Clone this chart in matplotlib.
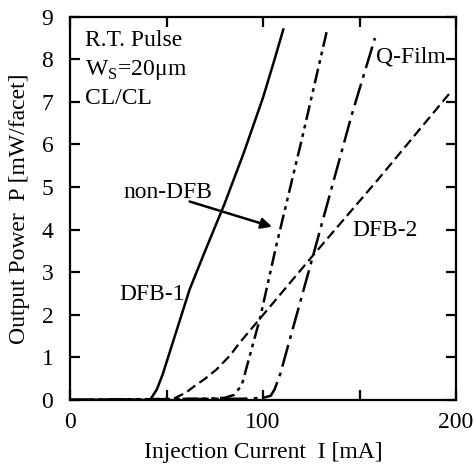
import matplotlib
matplotlib.use('Agg')
import matplotlib.pyplot as plt

plt.rcParams['font.family'] = ['Liberation Serif', 'DejaVu Serif']
plt.rcParams['mathtext.fontset'] = 'custom'
plt.rcParams['mathtext.rm'] = 'Liberation Serif'
plt.rcParams['font.size'] = 17

# curves: current [mA], power [mW/facet]
dfb1_I = [0, 20, 41.5, 45, 48, 55, 62, 70, 80, 90, 100, 106, 110.5]
dfb1_P = [0, 0.01, 0, 0.25, 0.6, 1.6, 2.6, 3.5, 4.6, 5.8, 7.1, 8.0, 8.7]

nondfb_I = [0, 40, 70, 80, 85, 89, 98.4, 107, 120, 133]
nondfb_P = [0, 0.02, 0.03, 0.05, 0.12, 0.35, 1.91, 3.65, 6.1, 8.65]

qfilm_I = [0, 50, 90, 100, 104, 106, 109, 126, 146, 158]
qfilm_P = [0, 0.02, 0.03, 0.05, 0.1, 0.25, 0.62, 3.4, 6.7, 8.5]

dfb2_I = [0, 30, 50, 54, 60, 64, 70, 76, 83, 88, 98.4, 126, 160, 197]
dfb2_P = [0, 0.01, 0.01, 0.04, 0.17, 0.31, 0.5, 0.72, 1.05, 1.35, 1.91, 3.4, 5.2, 7.22]

xticks = [0, 50, 100, 150, 200]
xtick_labels = ['0', '', '100', '', '200']
yticks = list(range(0, 10))

fig = plt.figure(figsize=(4.75, 4.65), dpi=100)
ax = fig.add_axes([0.1474, 0.1398, 0.8126, 0.8242])

ax.plot(dfb1_I, dfb1_P, color='black', lw=1.8, ls='-')
ax.plot(nondfb_I, nondfb_P, color='black', lw=1.8, ls=(0, (6, 2, 1.5, 2, 1.5, 2)))
ax.plot(qfilm_I, qfilm_P, color='black', lw=1.8, ls=(0, (9, 2.5, 1.5, 2.5)))
ax.plot(dfb2_I, dfb2_P, color='black', lw=1.6, ls=(0, (4.5, 2.2)))

ax.set_xlim(0, 200)
ax.set_ylim(0, 9)
ax.set_xticks(xticks)
ax.set_xticklabels(xtick_labels)
ax.set_yticks(yticks)
ax.tick_params(direction='in', length=7, width=1.6, top=True, right=True, pad=9)
ax.tick_params(axis='y', pad=12)
for s in ax.spines.values():
    s.set_linewidth(1.6)

ax.set_xlabel('Injection Current  I [mA]', labelpad=6)
ax.set_ylabel('Output Power  P [mW/facet]', labelpad=8)

ax.text(7.8, 8.32, 'R.T. Pulse')
ax.text(7.8, 7.63, r'W$_\mathregular{S}$=20μm')
ax.text(7.8, 6.95, 'CL/CL')
ax.text(50.8, 4.75, 'non-DFB', ha='center')
ax.text(42.3, 2.34, 'DFB-1', ha='center')
ax.text(163, 3.86, 'DFB-2', ha='center')
ax.text(176.7, 7.92, 'Q-Film', ha='center')

ax.annotate('', xy=(106, 4.05), xytext=(60.6, 4.68),
            arrowprops=dict(arrowstyle='-|>', color='black', lw=1.8, mutation_scale=16))

fig.savefig('out.png', dpi=100)
